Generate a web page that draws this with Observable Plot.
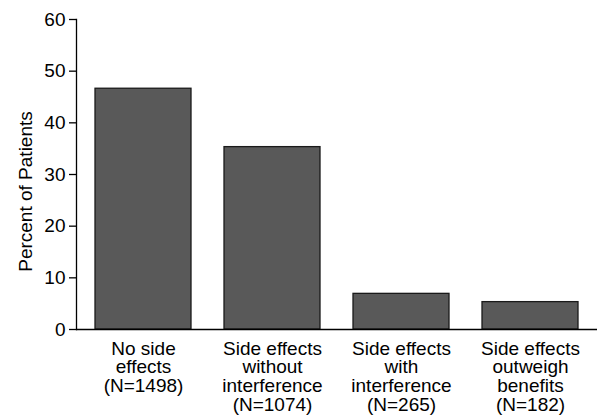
<!DOCTYPE html>
<html>
<head>
<meta charset="utf-8">
<script src="https://cdn.jsdelivr.net/npm/d3@7"></script>
<script src="https://cdn.jsdelivr.net/npm/@observablehq/plot@0.6"></script>
<style>
  html, body { margin: 0; padding: 0; background: #fff; }
</style>
</head>
<body>
<div id="chart"></div>
<script>
const categories = [
  "No side\neffects\n(N=1498)",
  "Side effects\nwithout\ninterference\n(N=1074)",
  "Side effects\nwith\ninterference\n(N=265)",
  "Side effects\noutweigh\nbenefits\n(N=182)"
];
const percents = [46.6, 35.3, 6.9, 5.3];
const yTicks = [0, 10, 20, 30, 40, 50, 60];
const yLabel = "Percent of Patients";

const data = categories.map((c, i) => ({category: c, value: percents[i]}));

const chart = Plot.plot({
  width: 598,
  height: 415,
  marginLeft: 76,
  marginRight: 1,
  marginTop: 19,
  marginBottom: 86,
  style: {fontFamily: "'Liberation Sans', Arial, sans-serif", fontSize: "19px", color: "#000", background: "#fff"},
  x: {domain: categories, paddingInner: 0.256, paddingOuter: 0.147, axis: null},
  y: {domain: [0, 60], axis: null},
  marks: [
    Plot.barY(data, {x: "category", y: "value", fill: "#595959", stroke: "#1a1a1a", strokeWidth: 1.3}),
    Plot.ruleY([0], {stroke: "#000", strokeWidth: 1.3}),
    Plot.frame({anchor: "left", stroke: "#000", strokeWidth: 1.3}),
    Plot.axisY(yTicks, {tickSize: 7, tickPadding: 4, label: null, stroke: "#000", strokeWidth: 1.3, fill: "#000", fontSize: 19}),
    Plot.axisX({tickSize: 0, tickPadding: 12, label: null, lineHeight: 0.98, fill: "#000", fontSize: 19}),
    Plot.text([yLabel], {frameAnchor: "left", textAnchor: "middle", rotate: -90, dx: -51, dy: 17, fill: "#000", fontSize: 19})
  ]
});
document.getElementById("chart").appendChild(chart);
</script>
</body>
</html>
